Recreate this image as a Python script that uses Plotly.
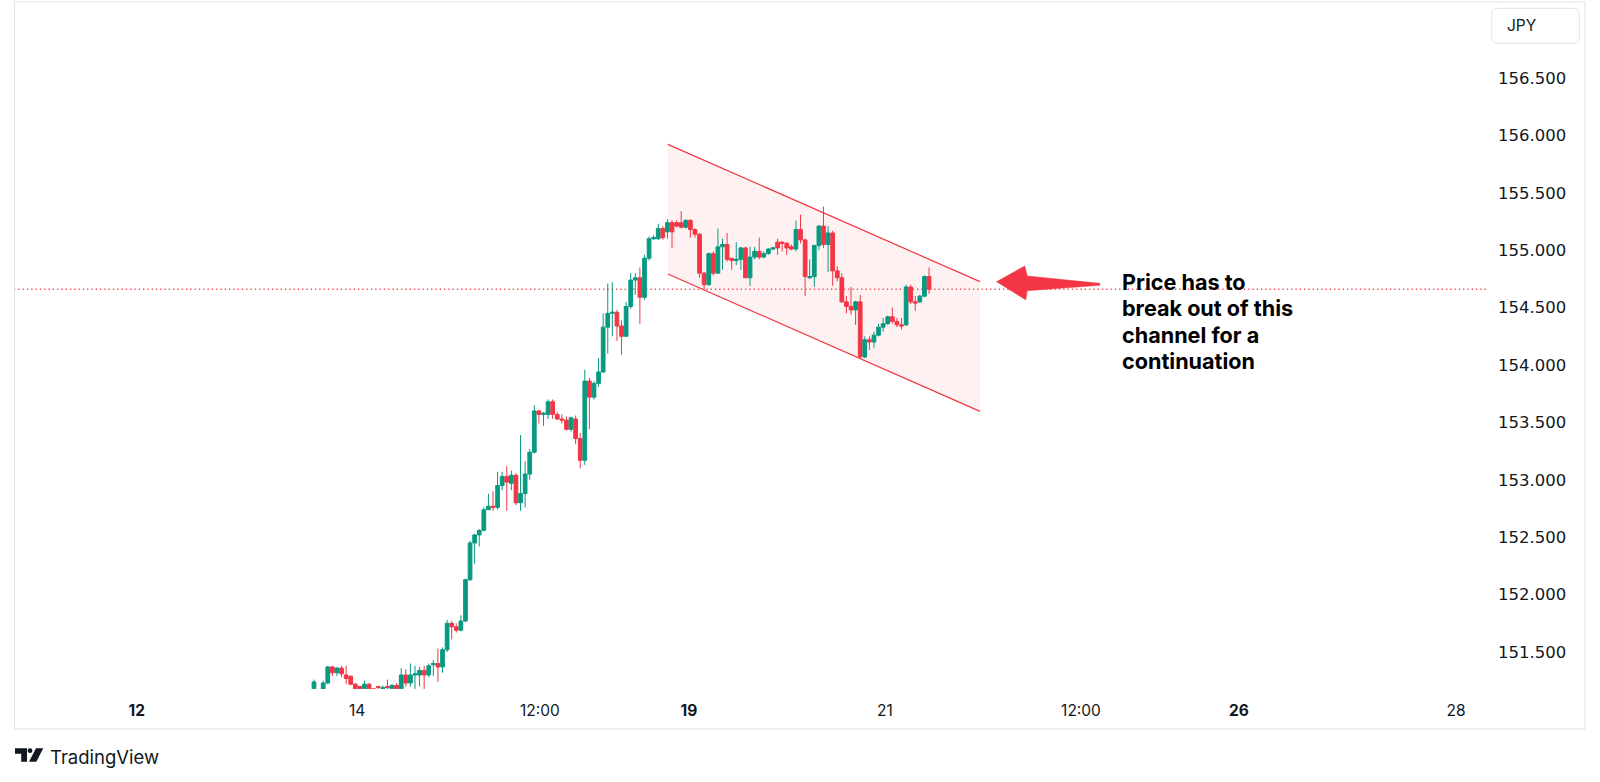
import plotly.graph_objects as go

# ---------------- data (USD/JPY hourly candles) ----------------
open_ = [151.18, 151.16, 151.17, 151.23, 151.37, 151.32, 151.36, 151.30, 151.29, 151.22,
         151.20, 151.18, 151.22, 151.18, 151.20, 151.18, 151.20, 151.18, 151.21, 151.18,
         151.30, 151.23, 151.30, 151.30, 151.34, 151.30, 151.39, 151.40, 151.37, 151.52,
         151.75, 151.72, 151.69, 151.77, 152.13, 152.45, 152.52, 152.56, 152.74, 152.77,
         152.76, 152.95, 153.03, 152.97, 153.04, 152.80, 152.88, 153.05, 153.24, 153.60,
         153.57, 153.57, 153.68, 153.57, 153.53, 153.52, 153.44, 153.53, 153.36, 153.17,
         153.86, 153.72, 153.84, 153.94, 154.33, 154.45, 154.46, 154.34, 154.25, 154.51,
         154.74, 154.76, 154.59, 154.93, 155.10, 155.10, 155.19, 155.16, 155.24, 155.24,
         155.24, 155.20, 155.26, 155.18, 155.14, 154.80, 154.70, 154.97, 154.80, 155.03,
         155.05, 154.93, 154.91, 154.92, 155.02, 154.76, 154.94, 154.99, 154.94, 154.97,
         155.01, 155.07, 155.07, 155.06, 155.03, 155.01, 155.18, 155.09, 154.76, 154.77,
         155.04, 155.21, 155.05, 155.15, 154.82, 154.76, 154.55, 154.51, 154.48, 154.55,
         154.07, 154.22, 154.20, 154.26, 154.33, 154.36, 154.42, 154.38, 154.35, 154.35,
         154.68, 154.55, 154.55, 154.60, 154.77]
high = [151.26, 151.17, 151.25, 151.38, 151.38, 151.37, 151.38, 151.38, 151.29, 151.23,
        151.20, 151.25, 151.23, 151.18, 151.20, 151.21, 151.26, 151.22, 151.23, 151.36,
        151.35, 151.40, 151.38, 151.37, 151.38, 151.40, 151.43, 151.53, 151.54, 151.78,
        151.77, 151.75, 151.82, 152.14, 152.47, 152.53, 152.57, 152.76, 152.88, 152.90,
        153.07, 153.07, 153.12, 153.08, 153.06, 153.39, 153.16, 153.27, 153.65, 153.61,
        153.59, 153.70, 153.70, 153.59, 153.57, 153.55, 153.55, 153.56, 153.41, 153.96,
        153.89, 153.86, 154.06, 154.45, 154.71, 154.72, 154.48, 154.39, 154.55, 154.80,
        154.80, 154.85, 154.96, 155.12, 155.13, 155.23, 155.21, 155.27, 155.26, 155.26,
        155.34, 155.27, 155.27, 155.19, 155.15, 154.81, 154.98, 154.99, 155.19, 155.10,
        155.15, 154.93, 155.07, 155.03, 155.03, 155.03, 155.03, 155.11, 154.99, 155.02,
        155.03, 155.10, 155.08, 155.07, 155.05, 155.26, 155.31, 155.10, 154.92, 155.05,
        155.22, 155.38, 155.21, 155.17, 154.86, 154.80, 154.60, 154.68, 154.56, 154.61,
        154.25, 154.25, 154.29, 154.36, 154.41, 154.43, 154.50, 154.41, 154.41, 154.70,
        154.70, 154.60, 154.61, 154.78, 154.85]
low = [151.15, 151.12, 151.14, 151.22, 151.29, 151.29, 151.28, 151.22, 151.21, 151.17,
       151.17, 151.17, 151.17, 151.16, 151.15, 151.16, 151.16, 151.17, 151.17, 151.17,
       151.20, 151.20, 151.17, 151.20, 151.17, 151.28, 151.29, 151.24, 151.32, 151.50,
       151.61, 151.67, 151.68, 151.76, 152.12, 152.27, 152.42, 152.55, 152.74, 152.73,
       152.74, 152.91, 152.73, 152.91, 152.78, 152.73, 152.76, 153.00, 153.23, 153.49,
       153.47, 153.53, 153.53, 153.52, 153.49, 153.43, 153.42, 153.31, 153.10, 153.13,
       153.44, 153.70, 153.81, 153.93, 154.10, 154.25, 154.21, 154.09, 154.25, 154.49,
       154.61, 154.36, 154.57, 154.91, 155.09, 155.09, 155.09, 155.10, 155.02, 155.20,
       155.19, 155.19, 155.11, 155.11, 154.76, 154.66, 154.69, 154.78, 154.80, 154.83,
       154.90, 154.83, 154.87, 154.83, 154.76, 154.69, 154.92, 154.92, 154.93, 154.96,
       155.00, 154.96, 154.99, 154.96, 155.00, 154.99, 155.06, 154.60, 154.75, 154.68,
       155.00, 155.02, 154.81, 154.69, 154.73, 154.54, 154.45, 154.44, 154.35, 154.06,
       154.06, 154.13, 154.15, 154.25, 154.29, 154.35, 154.36, 154.33, 154.31, 154.34,
       154.53, 154.47, 154.54, 154.59, 154.62]
close = [151.24, 151.14, 151.23, 151.37, 151.32, 151.36, 151.31, 151.27, 151.22, 151.18,
         151.18, 151.22, 151.18, 151.17, 151.19, 151.19, 151.19, 151.21, 151.18, 151.30,
         151.23, 151.30, 151.31, 151.34, 151.30, 151.38, 151.40, 151.37, 151.52, 151.75,
         151.72, 151.69, 151.77, 152.13, 152.45, 152.52, 152.56, 152.74, 152.77, 152.76,
         152.95, 153.03, 152.98, 153.04, 152.80, 152.88, 153.05, 153.24, 153.60, 153.57,
         153.58, 153.68, 153.57, 153.53, 153.52, 153.44, 153.54, 153.36, 153.17, 153.86,
         153.72, 153.84, 153.94, 154.33, 154.45, 154.46, 154.34, 154.25, 154.51, 154.74,
         154.76, 154.59, 154.93, 155.10, 155.11, 155.19, 155.11, 155.24, 155.16, 155.21,
         155.20, 155.26, 155.18, 155.14, 154.80, 154.70, 154.97, 154.80, 155.03, 155.05,
         154.92, 154.91, 154.92, 155.02, 154.76, 154.94, 154.99, 154.94, 154.97, 155.01,
         155.02, 155.02, 155.06, 155.02, 155.01, 155.18, 155.09, 154.77, 154.77, 155.04,
         155.21, 155.05, 155.15, 154.82, 154.76, 154.55, 154.51, 154.48, 154.55, 154.07,
         154.22, 154.20, 154.26, 154.33, 154.36, 154.42, 154.38, 154.35, 154.34, 154.68,
         154.55, 154.54, 154.60, 154.77, 154.66]
bar_index = list(range(len(close)))

# time-axis labels (positions in bar units)
time_tick_pos = [-38.6, 9.4, 49.2, 81.7, 124.4, 167.1, 201.5, 248.8]
time_tick_text = ["<b>12</b>", "14", "12:00", "<b>19</b>", "21", "12:00", "<b>26</b>", "28"]

price_ticks = [151.5, 152.0, 152.5, 153.0, 153.5, 154.0, 154.5, 155.0, 155.5, 156.0, 156.5]

# descending channel drawing (bar units / price)
channel_x = [77.1, 145.1]
channel_upper = [155.922, 154.726]
channel_lower = [154.793, 153.596]

note_lines = ["Price has to", "break out of this", "channel for a", "continuation"]

GREEN = "#089981"
RED = "#F23645"
TEXT = "#131722"
BORDER = "#E0E3EB"

# ---------------- layout geometry ----------------
W, H = 1600, 782
ML, MR, MT, MB = 14, 113, 2, 93
PW, PH = W - ML - MR, H - MT - MB


def paper_x(px):
    return (px - ML) / PW


def paper_y(py):
    return (H - MB - py) / PH


fig = go.Figure()
fig.add_trace(go.Candlestick(
    x=bar_index, open=open_, high=high, low=low, close=close,
    increasing=dict(line=dict(color=GREEN, width=1), fillcolor=GREEN),
    decreasing=dict(line=dict(color=RED, width=1), fillcolor=RED),
    whiskerwidth=0, showlegend=False, hoverinfo="skip",
))

shapes = []
# channel fill
shapes.append(dict(
    type="path", xref="x", yref="y", layer="below",
    path=(f"M{channel_x[0]},{channel_upper[0]} L{channel_x[1]},{channel_upper[1]} "
          f"L{channel_x[1]},{channel_lower[1]} L{channel_x[0]},{channel_lower[0]} Z"),
    fillcolor="rgba(242,54,69,0.07)", line=dict(width=0),
))
for edge in (channel_upper, channel_lower):
    shapes.append(dict(type="line", xref="x", yref="y", layer="above",
                       x0=channel_x[0], y0=edge[0], x1=channel_x[1], y1=edge[1],
                       line=dict(color=RED, width=1.2)))
# last price dotted line
shapes.append(dict(type="line", xref="paper", yref="y", x0=0, x1=1,
                   y0=close[-1], y1=close[-1], layer="below",
                   line=dict(color="rgba(242,54,69,0.9)", width=1.3, dash="1.3px,3px")))
# arrow (pixel geometry anchored at its tip, right of the channel end)
shapes.append(dict(
    type="path", xref="x", yref="y", xsizemode="pixel", ysizemode="pixel",
    xanchor=channel_x[1] + 3.6, yanchor=channel_upper[1],
    path="M0,0 L28.3,15.7 L30.7,5.7 L103.3,-1.7 L103.3,-3.7 L30.7,-9 L29.3,-18.3 Z",
    fillcolor=RED, line=dict(color=RED, width=0.5), layer="above",
))
# widget frame
shapes.append(dict(type="rect", xref="paper", yref="paper",
                   x0=paper_x(14.5), x1=paper_x(1585), y0=paper_y(729), y1=paper_y(2),
                   line=dict(color=BORDER, width=1), fillcolor="rgba(0,0,0,0)", layer="above"))
# currency box (rounded)
shapes.append(dict(
    type="path", xref="paper", yref="paper", xsizemode="pixel", ysizemode="pixel",
    xanchor=paper_x(1491.7), yanchor=paper_y(43.3),
    path="M6,0 L81.6,0 Q87.6,0 87.6,6 L87.6,29 Q87.6,35 81.6,35 L6,35 Q0,35 0,29 L0,6 Q0,0 6,0 Z",
    line=dict(color=BORDER, width=1), fillcolor="white",
))
# TradingView logo
logo_anchor = dict(xref="paper", yref="paper", xsizemode="pixel", ysizemode="pixel",
                   xanchor=paper_x(15), yanchor=paper_y(761.7))
shapes.append(dict(type="path", path="M0,13.4 L12,13.4 L12,0 L6.2,0 L6.2,8 L0,8 Z",
                   fillcolor=TEXT, line=dict(width=0), **logo_anchor))
shapes.append(dict(type="circle", x0=12.6, x1=17.4, y0=8.6, y1=13.4,
                   fillcolor=TEXT, line=dict(width=0), **logo_anchor))
shapes.append(dict(type="path", path="M21,13.4 L28.3,13.4 L21.3,0 L14,0 Z",
                   fillcolor=TEXT, line=dict(width=0), **logo_anchor))

# note: one text block; base size sets the line pitch, spans set glyph size
note_text = "<br>".join(
    f"<span style='font-size:21.6px'><b>{line}</b></span>" for line in note_lines)
annotations = [dict(
    x=175.6, y=154.375, xref="x", yref="y", xanchor="left", yanchor="middle",
    align="left", text=note_text, showarrow=False,
    font=dict(family="Inter", size=20.2, color="#000000"),
)]
annotations.append(dict(x=paper_x(1505), y=paper_y(26), xref="paper", yref="paper",
                        xanchor="left", yanchor="middle", text="JPY", showarrow=False,
                        font=dict(family="Inter", size=15.5, color=TEXT)))
annotations.append(dict(x=paper_x(48), y=paper_y(757), xref="paper", yref="paper",
                        xanchor="left", yanchor="middle", text="TradingView", showarrow=False,
                        font=dict(family="Inter", size=18.5, color=TEXT)))

fig.update_layout(
    width=W, height=H, autosize=False,
    margin=dict(l=ML, r=MR, t=MT, b=MB, pad=0),
    paper_bgcolor="white", plot_bgcolor="white",
    boxgap=0.1, boxgroupgap=0.1,
    showlegend=False,
    shapes=shapes, annotations=annotations,
    xaxis=dict(range=[-65.36, 255.56], tickvals=time_tick_pos, ticktext=time_tick_text,
               showgrid=False, zeroline=False, showline=False, ticks="",
               ticklabelstandoff=10, rangeslider=dict(visible=False),
               tickfont=dict(family="Inter", size=15.5, color=TEXT), fixedrange=True),
    yaxis=dict(range=[151.178, 157.162], side="right", tickvals=price_ticks,
               tickformat=".3f", showgrid=False, zeroline=False, showline=False,
               ticks="", ticklabelstandoff=10,
               tickfont=dict(family="DejaVu Sans", size=16.5, color=TEXT), fixedrange=True),
)

fig.write_html("out.html", include_plotlyjs=True, full_html=True,
               config=dict(displayModeBar=False),
               post_script="document.body.style.margin='0';document.body.style.overflow='hidden';")
